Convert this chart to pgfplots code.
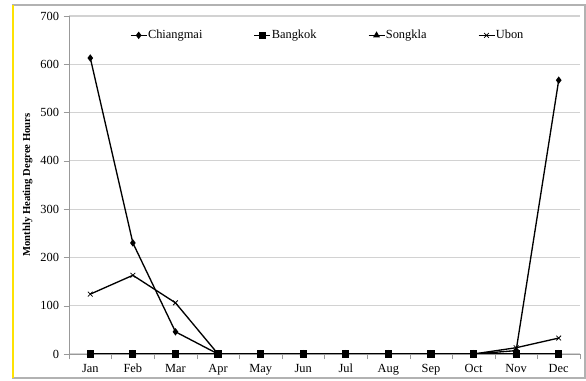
\documentclass[border=0pt]{standalone}
\usepackage{pgfplots}
\pgfplotsset{compat=1.18}
\usepackage{fontspec}
\setmainfont{Liberation Serif}
\begin{document}
\begin{tikzpicture}[x=0.75pt,y=0.75pt]
\useasboundingbox (-69,-27) rectangle (517,354);
\draw[gray!60, line width=0.8pt] (-56,-24) rectangle (516,349);
\draw[yellow!85!orange, line width=1.2pt] (-56,-24) -- (-56,349);
\begin{axis}[
  at={(0,0)}, anchor=south west,
  scale only axis, width=383.25pt, height=253.5pt,
  xmin=-0.5, xmax=11.5, ymin=0, ymax=700,
  axis x line*=bottom, axis y line*=left,
  axis line style={gray!80, -},
  xtick={0,...,11},
  xticklabels={Jan,Feb,Mar,Apr,May,Jun,Jul,Aug,Sep,Oct,Nov,Dec},
  minor xtick={-0.5,0.5,...,11.5},
  major x tick style={draw=none},
  minor x tick style={gray!80},
  minor tick length=4pt,
  ytick={0,100,...,700},
  ytick style={gray!80},
  major tick length=4pt,
  tick align=outside,
  ymajorgrids, grid style={gray!35, line width=0.8pt},
  tick label style={font=\fontsize{9.3}{10}\selectfont},
  /pgf/number format/assume math mode=true,
  ylabel={\textbf{Monthly Heating Degree Hours}},
  ylabel style={font=\fontsize{8}{9}\selectfont, yshift=-1pt},
  legend style={at={(0.505,0.975)}, anchor=north, draw=none, fill=none,
    font=\fontsize{9.3}{10}\selectfont, nodes={inner xsep=0.5pt},
    /tikz/every even column/.append style={column sep=38pt}},
  legend columns=4,
  legend image code/.code={\draw[#1] (0pt,0pt) -- (12pt,0pt); \draw[#1, mark repeat=1] plot coordinates {(6pt,0pt)};},
  every axis plot/.append style={black, line width=1pt},
]
\addplot[mark=diamond*, mark size=2pt] coordinates {(0,613)(1,230)(2,46)(3,0)(4,0)(5,0)(6,0)(7,0)(8,0)(9,0)(10,7)(11,567)};
\addlegendentry{Chiangmai}
\addplot[mark=square*, mark size=2.2pt] coordinates {(0,0)(1,0)(2,0)(3,0)(4,0)(5,0)(6,0)(7,0)(8,0)(9,0)(10,0)(11,0)};
\addlegendentry{Bangkok}
\addplot[mark=triangle*, mark size=2pt] coordinates {(0,0)(1,0)(2,0)(3,0)(4,0)(5,0)(6,0)(7,0)(8,0)(9,0)(10,0)(11,0)};
\addlegendentry{Songkla}
\addplot[mark=x, mark size=2.5pt, mark options={line width=0.6pt}] coordinates {(0,124)(1,163)(2,106)(3,0)(4,0)(5,0)(6,0)(7,0)(8,0)(9,0)(10,13)(11,33)};
\addlegendentry{Ubon}
\end{axis}
\end{tikzpicture}
\end{document}
